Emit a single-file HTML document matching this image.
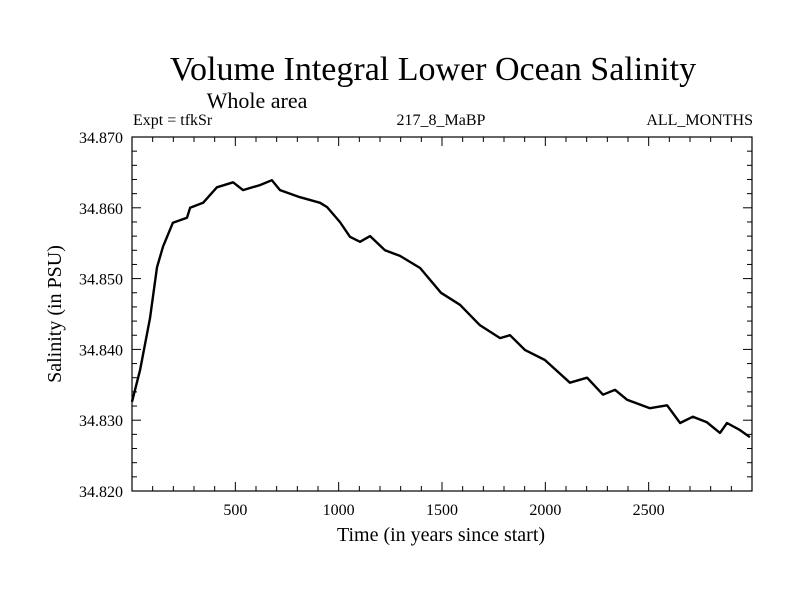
<!DOCTYPE html>
<html><head><meta charset="utf-8"><style>
body{margin:0;background:#fff}
svg text{font-family:"Liberation Serif",serif;fill:#000}
</style></head><body>
<svg width="800" height="600">
<text x="433" y="80" font-size="34" text-anchor="middle">Volume Integral Lower Ocean Salinity</text>
<text x="257" y="108" font-size="22" text-anchor="middle">Whole area</text>
<text x="133" y="125" font-size="16">Expt = tfkSr</text>
<text x="441" y="125" font-size="16" text-anchor="middle">217_8_MaBP</text>
<text x="753" y="125" font-size="16" text-anchor="end">ALL_MONTHS</text>
<text x="441" y="541" font-size="20" text-anchor="middle">Time (in years since start)</text>
<text transform="translate(61,314) rotate(-90)" font-size="20" text-anchor="middle">Salinity (in PSU)</text>
<g id="axes"></g>
<path id="line" fill="none" stroke="#000" stroke-width="2.4" stroke-linejoin="round"></path>
</svg>
<script>
const years=[0,39,87,121,150,198,266,281,344,411,489,537,619,677,716,813,910,944,1006,1055,1103,1152,1224,1297,1394,1495,1587,1684,1781,1829,1902,1998,2119,2202,2279,2337,2395,2506,2589,2652,2714,2782,2845,2879,2942,2990];
const salinity=[34.8326,34.8371,34.8444,34.8516,34.8545,34.8579,34.8586,34.8600,34.8607,34.8629,34.8636,34.8625,34.8632,34.8639,34.8625,34.8615,34.8607,34.8601,34.8580,34.8559,34.8552,34.8560,34.8540,34.8532,34.8515,34.8480,34.8463,34.8434,34.8416,34.8420,34.8399,34.8385,34.8353,34.8360,34.8336,34.8343,34.8329,34.8317,34.8321,34.8296,34.8305,34.8297,34.8282,34.8296,34.8286,34.8276];
const yTicks=[34.820,34.830,34.840,34.850,34.860,34.870];
const xTicks=[500,1000,1500,2000,2500];
const L=132,R=752,T=137,B=491,X0=0,X1=3000,Y0=34.82,Y1=34.87;
const sx=v=>L+(v-X0)/(X1-X0)*(R-L);
const sy=v=>B-(v-Y0)/(Y1-Y0)*(B-T);
const NS="http://www.w3.org/2000/svg";
const g=document.getElementById('axes');
function mk(tag,attrs){const e=document.createElementNS(NS,tag);for(const k in attrs)e.setAttribute(k,attrs[k]);g.appendChild(e);return e;}
const frame=mk('rect',{x:L,y:T,width:R-L,height:B-T,fill:'none',stroke:'#000','stroke-width':1.2});


for(let v=100;v<3000;v+=100){const x=sx(v);const len=(v%500===0)?9:5;
mk('line',{x1:x,x2:x,y1:B,y2:B-len,stroke:'#000'});mk('line',{x1:x,x2:x,y1:T,y2:T+len,stroke:'#000'});}
for(let i=1;i<25;i++){const v=Y0+i*0.002;const y=sy(v);const len=(i%5===0)?9:5;
mk('line',{x1:L,x2:L+len,y1:y,y2:y,stroke:'#000'});mk('line',{x1:R,x2:R-len,y1:y,y2:y,stroke:'#000'});}
xTicks.forEach(v=>{const t=mk('text',{x:sx(v),y:B+24,'font-size':16,'text-anchor':'middle'});t.textContent=v;

});
yTicks.forEach(v=>{const t=mk('text',{x:L-9,y:sy(v)+6,'font-size':16,'text-anchor':'end'});t.textContent=v.toFixed(3);

});
document.getElementById('line').setAttribute('d',years.map((y,i)=>(i?'L':'M')+sx(y).toFixed(1)+','+sy(salinity[i]).toFixed(1)).join(''));
</script>
</body></html>
